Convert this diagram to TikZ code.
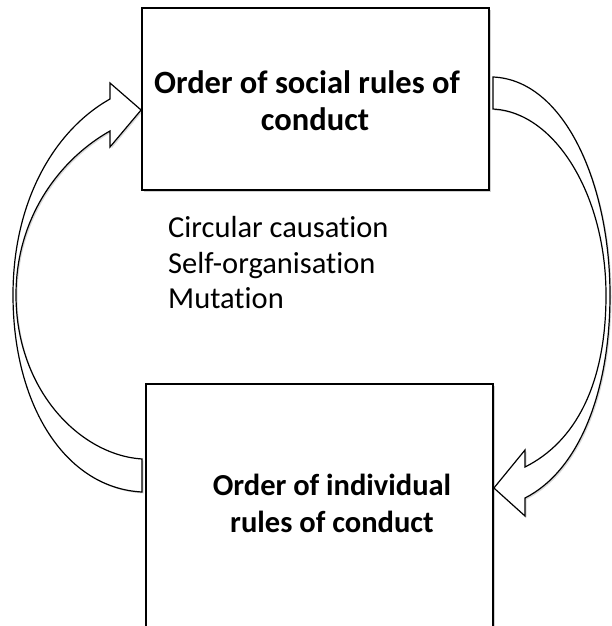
\documentclass[tikz,border=0pt]{standalone}
\usepackage{fontspec}
\setmainfont{Carlito}[Ligatures={NoCommon}]
\usetikzlibrary{shadows,calc}
\begin{document}
\begin{tikzpicture}[x=1pt,y=-1pt,
  box/.style={draw=black, line width=1.8pt, fill=white, rectangle, inner sep=0pt,
    drop shadow={shadow xshift=2pt, shadow yshift=-2pt, opacity=0.18, fill=black}},
  blockarrow/.style={draw=black, line width=1.2pt, fill=white, line join=miter,
    drop shadow={shadow xshift=1.5pt, shadow yshift=-1.5pt, opacity=0.15, fill=black}},
  titletext/.style={font=\bfseries\fontsize{32.5}{37}\selectfont, align=center, inner sep=0pt},
  bottext/.style={font=\bfseries\fontsize{30.5}{37}\selectfont, align=center, inner sep=0pt},
  listtext/.style={font=\fontsize{30.5}{35.5}\selectfont, align=left, inner sep=0pt, anchor=west}
]
\useasboundingbox (0,0) rectangle (612,626);

% boxes
\node[box, minimum width=347pt, minimum height=182pt] (top) at (315.5,99) {};
\node[box, minimum width=347pt, minimum height=262pt] (bot) at (319.5,515) {};

% titles
\node[titletext] (toptitle) at (307,101) {Order of social rules of\\\hspace*{16pt}conduct};
\node[bottext] (bottitle) at (332,503) {Order of individual\\rules of conduct};

% list
\node[listtext] (list) at (168,263) {Circular causation\\Self-organisation\\Mutation};

% left curved block arrow: from bottom box up to top box
\coordinate (lt) at ($(top.west)+(0,11)$);
\draw[blockarrow] (142,459) -- (142,492)
  .. controls (65,488) and (13,405) .. (13,295)
  .. controls (13,200) and (55,130) .. (110,99)
  -- (110,83) -- (lt) -- (110,147) -- (110,131)
  .. controls (62,158) and (16,215) .. (16,295)
  .. controls (16,390) and (80,455) .. (142,459) -- cycle;

% right curved block arrow: from top box down to bottom box
\coordinate (rt) at ($(bot.east)+(0,-27)$);
\draw[blockarrow] (493,77) -- (493,109)
  .. controls (555,112) and (606,195) .. (606,295)
  .. controls (606,385) and (575,442) .. (525,467)
  -- (525,450) -- (rt) -- (525,516) -- (525,498)
  .. controls (580,470) and (610,390) .. (610,295)
  .. controls (610,185) and (565,80) .. (493,77) -- cycle;
\end{tikzpicture}
\end{document}
